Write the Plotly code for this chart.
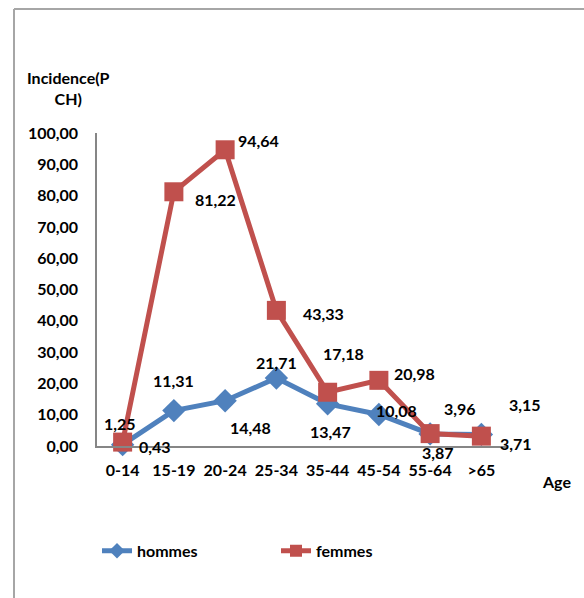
import plotly.graph_objects as go

categories = ["0-14", "15-19", "20-24", "25-34", "35-44", "45-54", "55-64", ">65"]
hommes = [0.43, 11.31, 14.48, 21.71, 13.47, 10.08, 3.87, 3.71]
femmes = [1.25, 81.22, 94.64, 43.33, 17.18, 20.98, 3.96, 3.15]
y_ticks = [0, 10, 20, 30, 40, 50, 60, 70, 80, 90, 100]

# label offsets in px (dx, dy-down) as placed in the reference
hommes_off = [(32, 2), (0, -30), (25, 27), (0, -16), (3, 28), (18, -4), (8, 19), (35, 9)]
femmes_off = [(-3, -19), (42, 8), (33, -9), (47, 3), (16, -39), (36, -7), (30, -25), (44, -32)]

BLUE = "#4F81BD"
RED = "#C0504D"
FONT = "Lato"
TXT = dict(family=FONT, size=16, color="black", weight="bold")

fig = go.Figure()
fig.add_trace(go.Scatter(
    x=categories, y=hommes, name="hommes", mode="lines+markers",
    line=dict(color=BLUE, width=5),
    marker=dict(symbol="diamond", size=18, color=BLUE),
))
fig.add_trace(go.Scatter(
    x=categories, y=femmes, name="femmes", mode="lines+markers",
    line=dict(color=RED, width=5),
    marker=dict(symbol="square", size=19, color=RED),
))

ann = []
for series, offs in ((hommes, hommes_off), (femmes, femmes_off)):
    for c, v, (dx, dy) in zip(categories, series, offs):
        ann.append(dict(x=c, y=v, xref="x", yref="y", text=f"{v:.2f}".replace(".", ","),
                        showarrow=False, xshift=dx, yshift=-dy, font=TXT))

ann.append(dict(x=-0.0707, y=1.145, xref="paper", yref="paper", text="Incidence(P<br>CH)",
                showarrow=False, align="center", xanchor="center", yanchor="middle", font=TXT))
ann.append(dict(x=1.12, y=-0.115, xref="paper", yref="paper", text="Age",
                showarrow=False, xanchor="center", yanchor="middle", font=TXT))
fig.update_layout(annotations=ann)

# outer chart-area frame
x0 = (14 - 97) / 410
y_top = (446 - 9) / 313
y_bot = (446 - 600) / 313
x_right = (600 - 97) / 410
fig.add_shape(type="line", xref="paper", yref="paper", x0=x0, x1=x0, y0=y_bot, y1=y_top,
              line=dict(color="#A6A6A6", width=2))
fig.add_shape(type="line", xref="paper", yref="paper", x0=x0, x1=x_right, y0=y_top, y1=y_top,
              line=dict(color="#A6A6A6", width=2))

fig.update_layout(
    width=584, height=598,
    margin=dict(l=97, r=77, t=133, b=152),
    paper_bgcolor="white", plot_bgcolor="white",
    separators=", ",
    showlegend=True,
    legend=dict(orientation="h", x=0.0, y=-0.335, xanchor="left", yanchor="middle",
                entrywidth=134, itemsizing="constant", font=TXT),
    xaxis=dict(range=[-0.5, 7.5], showgrid=False, showline=True, linecolor="#868686", linewidth=1.5,
               ticks="", tickfont=TXT, ticklabelstandoff=9, zeroline=False),
    yaxis=dict(range=[0, 100], tickvals=y_ticks, tickformat=".2f", showgrid=False, showline=True,
               linecolor="#868686", linewidth=1.5, ticks="", tickfont=TXT,
               ticklabelstandoff=14, zeroline=False),
)
fig.update_traces(cliponaxis=False)

fig.write_html("out.html")
